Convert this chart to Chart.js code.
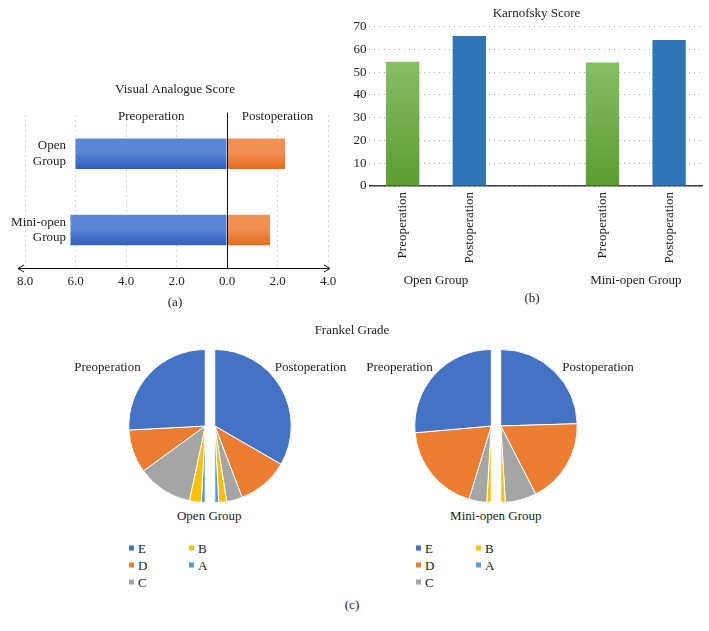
<!DOCTYPE html>
<html>
<head>
<meta charset="utf-8">
<script src="https://cdn.jsdelivr.net/npm/chart.js@4.4.0/dist/chart.umd.min.js"></script>
<style>
  body { margin: 0; background: #fff; }
  #wrap { position: relative; width: 709px; height: 631px; overflow: hidden;
          font-family: "Liberation Serif", "Times New Roman", serif; color: #222; }
  #wrap canvas { position: absolute; }
  .txt { position: absolute; font-size: 13px; line-height: 1; white-space: nowrap; color: #222;
         transform: translate(-50%, -50%); }
  .leg { position: absolute; font-size: 13px; line-height: 1; white-space: nowrap; color: #222; transform: translateY(-50%); }
  .leg i { display: inline-block; width: 5px; height: 5px; margin-right: 4px; vertical-align: 2px; }
</style>
</head>
<body>
<div id="wrap">
  <canvas id="vas" width="350" height="215" style="left:0;top:80px"></canvas>
  <canvas id="karn" width="373" height="300" style="left:350px;top:0"></canvas>

  <canvas id="openPreC" width="78" height="154"></canvas>
  <canvas id="openPostC" width="78" height="154"></canvas>
  <canvas id="miniPreC" width="78" height="154"></canvas>
  <canvas id="miniPostC" width="78" height="154"></canvas>

  <div class="txt" style="left:175px;top:301px">(a)</div>
  <div class="txt" style="left:532px;top:297px">(b)</div>
  <div class="txt" style="left:352px;top:329px">Frankel Grade</div>
  <div class="txt" style="left:352px;top:604px">(c)</div>
</div>

<script>
// ---- (a) Visual Analogue Score
const vasGroups = [['Open', 'Group'], ['Mini-open', 'Group']];
const vasPre = [-6.0, -6.2];     // drawn to the left, read as positive
const vasPost = [2.3, 1.7];
const vasCaptionAt = [-3, 2];    // where the two series names sit along the axis

// ---- (b) Karnofsky Score
const karnLabels = ['Preoperation', 'Postoperation', '', 'Preoperation', 'Postoperation'];
const karnValues = [54.6, 65.9, null, 54.2, 64.1];
const karnGroups = ['Open Group', 'Mini-open Group'];
const karnGroupSlots = [[0, 1], [3, 4]];

// ---- (c) Frankel Grade (patients per grade)
const grades = ['E', 'D', 'C', 'B', 'A'];
const gradeColors = ['#4472C4', '#ED7D31', '#A5A5A5', '#FFC000', '#5B9BD5'];
const openPre = [31, 11, 14, 3, 1];
const openPost = [40, 13, 4, 2, 1];
const miniPre = [28, 20, 4, 1, 0];
const miniPost = [26, 19, 7, 1, 0];

Chart.defaults.font.family = '"Liberation Serif", "Times New Roman", serif';
Chart.defaults.font.size = 13;
Chart.defaults.color = '#222';
Chart.defaults.animation = false;

const FONT = '13px "Liberation Serif", "Times New Roman", serif';

// vertical gradient across a horizontal bar (a)
function hBarGradient(top, bottom) {
    return (c) => {
        if (c.type !== 'data') return bottom;
        const py = c.chart.scales.y.getPixelForValue(c.dataIndex);
        if (!isFinite(py)) return bottom;
        const g = c.chart.ctx.createLinearGradient(0, py - 15, 0, py + 15);
        g.addColorStop(0, top);
        g.addColorStop(0.45, top);
        g.addColorStop(1, bottom);
        return g;
    };
}

const vasDecor = {
    id: 'vasDecor',
    afterDatasetsDraw(chart) {
        const { ctx, chartArea: a, scales: { x, y } } = chart;
        const x0 = Math.round(x.getPixelForValue(0)) + 0.5;
        ctx.save();
        ctx.strokeStyle = '#111';
        ctx.lineWidth = 1;
        ctx.beginPath();
        ctx.moveTo(x0, a.top - 3);
        ctx.lineTo(x0, a.bottom);
        ctx.stroke();

        // axis line with arrow heads at both ends
        const yb = Math.round(a.bottom) + 0.5, l = a.left - 7, r = a.right + 2;
        ctx.beginPath();
        ctx.moveTo(l, yb); ctx.lineTo(r, yb);
        ctx.moveTo(l + 6, yb - 3.5); ctx.lineTo(l, yb); ctx.lineTo(l + 6, yb + 3.5);
        ctx.moveTo(r - 6, yb - 3.5); ctx.lineTo(r, yb); ctx.lineTo(r - 6, yb + 3.5);
        ctx.stroke();

        ctx.font = FONT;
        ctx.fillStyle = '#222';
        ctx.textBaseline = 'middle';
        ctx.textAlign = 'center';
        chart.data.datasets.forEach((ds, i) => {
            ctx.fillText(ds.label, x.getPixelForValue(vasCaptionAt[i]), a.top + 1);
        });

        // category names sit inside the axis span, right-aligned
        ctx.textAlign = 'right';
        chart.data.labels.forEach((lab, i) => {
            const cy = y.getPixelForValue(i);
            const lines = [].concat(lab);
            lines.forEach((t, k) => ctx.fillText(t, a.left + 41, cy + (k - (lines.length - 1) / 2) * 15.6));
        });
        ctx.restore();
    }
};

const vasChart = new Chart(document.getElementById('vas'), {
    type: 'bar',
    data: {
        labels: vasGroups,
        datasets: [
            { label: 'Preoperation', data: vasPre, backgroundColor: hBarGradient('#5a86d5', '#2f5fbe') },
            { label: 'Postoperation', data: vasPost, backgroundColor: hBarGradient('#f28f55', '#e56d1d') }
        ]
    },
    options: {
        indexAxis: 'y',
        responsive: false,
        barPercentage: 0.4,
        categoryPercentage: 1,
        plugins: {
            legend: { display: false },
            tooltip: { enabled: false },
            title: {
                display: true,
                text: 'Visual Analogue Score',
                font: { size: 13, weight: 'normal' },
                color: '#222',
                padding: { top: 2, bottom: 18 }
            }
        },
        scales: {
            x: {
                stacked: true,
                min: -8, max: 4,
                ticks: { stepSize: 2, padding: 6, callback: v => Math.abs(v).toFixed(1) },
                grid: { color: '#a8a8a8', drawTicks: false },
                border: { display: false, dash: [1, 4] },
                afterFit(s) { s.height = 27; s.paddingRight = 22; }
            },
            y: {
                stacked: true,
                grid: { display: false },
                border: { display: false },
                ticks: { display: false },
                afterFit(s) { s.width = 25; }
            }
        }
    },
    plugins: [vasDecor]
});
vasChart.update();

// ---- (b)
function vBarGradient(top, bottom) {
    return (c) => {
        if (c.type !== 'data' || c.raw == null) return bottom;
        const y = c.chart.scales.y;
        const y1 = y.getPixelForValue(c.raw), y0 = y.getPixelForValue(0);
        if (!isFinite(y1) || !isFinite(y0) || y1 === y0) return bottom;
        const g = c.chart.ctx.createLinearGradient(0, y1, 0, y0);
        g.addColorStop(0, top);
        g.addColorStop(1, bottom);
        return g;
    };
}
const greenBar = vBarGradient('#86be65', '#5b9c30');

const karnGroupText = {
    id: 'karnGroupText',
    afterDraw(chart) {
        const { ctx, chartArea: a, scales: { x } } = chart;
        ctx.save();
        ctx.font = FONT;
        ctx.fillStyle = '#222';
        ctx.textAlign = 'center';
        ctx.textBaseline = 'middle';
        karnGroups.forEach((g, i) => {
            const [p, q] = karnGroupSlots[i];
            ctx.fillText(g, (x.getPixelForValue(p) + x.getPixelForValue(q)) / 2, a.bottom + 95);
        });
        ctx.restore();
    }
};

const karnChart = new Chart(document.getElementById('karn'), {
    type: 'bar',
    data: {
        labels: karnLabels,
        datasets: [{
            data: karnValues,
            backgroundColor: (c) => karnLabels[c.dataIndex] === 'Preoperation' ? greenBar(c) : '#2e75b6'
        }]
    },
    options: {
        responsive: false,
        barPercentage: 0.5,
        categoryPercentage: 1,
        plugins: {
            legend: { display: false },
            tooltip: { enabled: false },
            title: {
                display: true,
                text: 'Karnofsky Score',
                font: { size: 13, weight: 'normal' },
                color: '#222',
                padding: { top: 6, bottom: 5 }
            }
        },
        scales: {
            x: {
                grid: { display: false },
                border: { display: true, color: '#404040', width: 1.5 },
                ticks: { minRotation: 90, maxRotation: 90, autoSkip: false, padding: -2 },
                afterFit(s) { s.height = 114; s.paddingRight = 20.6; }
            },
            y: {
                min: 0, max: 70,
                ticks: { stepSize: 10, padding: 3 },
                grid: { color: '#a8a8a8', drawTicks: false },
                border: { display: false, dash: [1, 4] },
                afterFit(s) { s.width = 19.4; }
            }
        }
    },
    plugins: [karnGroupText]
});
karnChart.update();

// ---- (c) each pie is two half pies pulled apart by a thin gap
const pieCenterY = 426;
function halfPie(id, values, side, cx) {
    const right = side === 'right';
    const el = document.getElementById(id);
    el.style.top = (pieCenterY - 77) + 'px';
    el.style.left = (right ? cx - 0.75 : cx - 77.25) + 'px';
    new Chart(el, {
        type: 'pie',
        data: {
            labels: right ? grades : grades.slice().reverse(),
            datasets: [{
                data: right ? values : values.slice().reverse(),
                backgroundColor: right ? gradeColors : gradeColors.slice().reverse(),
                borderColor: '#ffffff',
                borderWidth: 1
            }]
        },
        options: {
            responsive: false,
            rotation: right ? 0 : 180,
            circumference: 180,
            plugins: { legend: { display: false }, tooltip: { enabled: false } }
        }
    });
}
halfPie('openPreC', openPre, 'left', 205.7);
halfPie('openPostC', openPost, 'right', 214.3);
halfPie('miniPreC', miniPre, 'left', 491.7);
halfPie('miniPostC', miniPost, 'right', 500.4);

// pie captions and legends
const wrap = document.getElementById('wrap');
function addText(text, x, y) {
    const d = document.createElement('div');
    d.className = 'txt';
    d.style.left = x + 'px';
    d.style.top = y + 'px';
    d.textContent = text;
    wrap.appendChild(d);
}
addText('Preoperation', 107.5, 366);
addText('Postoperation', 310.5, 366);
addText('Open Group', 209.3, 515);
addText('Preoperation', 399.5, 366);
addText('Postoperation', 598, 366);
addText('Mini-open Group', 495.8, 515);

function addLegend(x0) {
    grades.forEach((g, i) => {
        const d = document.createElement('div');
        d.className = 'leg';
        d.style.left = (x0 + Math.floor(i / 3) * 60) + 'px';
        d.style.top = (548 + (i % 3) * 17) + 'px';
        d.innerHTML = '<i style="background:' + gradeColors[i] + '"></i>' + g;
        wrap.appendChild(d);
    });
}
addLegend(129);
addLegend(416);
</script>
</body>
</html>
